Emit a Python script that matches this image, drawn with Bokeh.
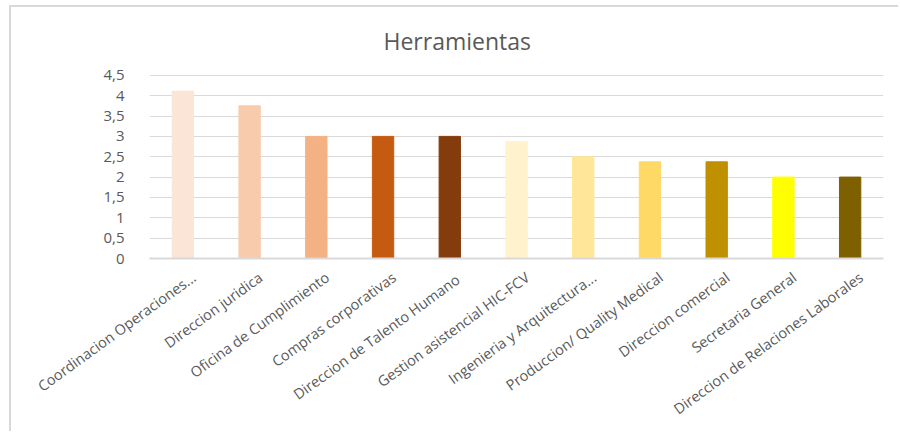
import math

from bokeh.embed import file_html
from bokeh.models import ColumnDataSource, FixedTicker, LinearAxis, Range1d
from bokeh.plotting import figure
from bokeh.resources import INLINE

# Data
title_text = "Herramientas"
categories = [
    "Coordinacion Operaciones...",
    "Direccion juridica",
    "Oficina de Cumplimiento",
    "Compras corporativas",
    "Direccion de  Talento Humano",
    "Gestion asistencial HIC-FCV",
    "Ingenieria y Arquitectura...",
    "Produccion/ Quality Medical",
    "Direccion comercial",
    "Secretaria General",
    "Direccion de Relaciones Laborales",
]
values = [4.11, 3.75, 3.0, 3.0, 3.0, 2.875, 2.5, 2.375, 2.375, 2.0, 2.0]
bar_colors = [
    "#FBE5D6", "#F8CBAD", "#F4B183", "#C55A11", "#843C0C",
    "#FFF2CC", "#FFE699", "#FFD966", "#BF9000", "#FFFF00", "#7F6000",
]
y_ticks = [0, 0.5, 1, 1.5, 2, 2.5, 3, 3.5, 4, 4.5]
y_tick_labels = ["0", "0,5", "1", "1,5", "2", "2,5", "3", "3,5", "4", "4,5"]

FONT = "Open Sans"
TEXT_COLOR = "#595959"
GRID_COLOR = "#D9D9D9"

# category slots 0..n-1 on a numeric x scale
slots = list(range(len(categories)))
source = ColumnDataSource(dict(slot=slots, cat=categories, val=values, color=bar_colors))

p = figure(
    width=889, height=426,
    x_range=Range1d(-0.5, len(categories) - 0.5),
    y_range=Range1d(0, 4.52),
    x_axis_location=None,
    output_backend="svg", toolbar_location=None,
    min_border_left=138, min_border_right=17,
    min_border_top=67, min_border_bottom=175,
)
# chart frame: thin grey border on the left and top edges
p.margin = (5, 0, 0, 9)
p.styles = {"border-left": f"2px solid {GRID_COLOR}", "border-top": f"2px solid {GRID_COLOR}"}
p.outline_line_color = None
p.background_fill_color = "white"
p.border_fill_color = "white"

p.vbar(x="slot", top="val", width=0.32, color="color", line_color="color", source=source)

# Title
p.title.text = title_text
p.title.align = "left"
p.title.offset = 234
p.title.standoff = 31
p.title.vertical_align = "top"
p.title.text_font = FONT
p.title.text_font_size = "23px"
p.title.text_font_style = "normal"
p.title.text_color = TEXT_COLOR

# Grid
p.xgrid.grid_line_color = None
p.ygrid.grid_line_color = GRID_COLOR
p.ygrid.grid_line_width = 1
p.ygrid.ticker = FixedTicker(ticks=y_ticks)

# Y axis: labels only, comma decimals
p.yaxis.ticker = FixedTicker(ticks=y_ticks)
p.yaxis.major_label_overrides = {t: s for t, s in zip(y_ticks, y_tick_labels)}
p.yaxis.axis_line_color = None
p.yaxis.major_tick_line_color = None
p.yaxis.minor_tick_line_color = None
p.yaxis.major_label_standoff = 19
p.yaxis.major_label_text_font = FONT
p.yaxis.major_label_text_font_size = "15px"
p.yaxis.major_label_text_color = TEXT_COLOR

# X axis: rotated category names, anchored slightly right of each bar
label_shift = 0.165
p.extra_x_ranges = {"labels": Range1d(-0.5 - label_shift, len(categories) - 0.5 - label_shift)}
xaxis = LinearAxis(
    x_range_name="labels",
    ticker=FixedTicker(ticks=slots),
    major_label_overrides={i: c for i, c in zip(slots, categories)},
    axis_line_color=GRID_COLOR, axis_line_width=2,
    major_tick_line_color=None, minor_tick_line_color=None,
    major_label_orientation=math.radians(36),
    major_label_standoff=11,
    major_label_text_font=FONT,
    major_label_text_font_size="14.5px",
    major_label_text_color=TEXT_COLOR,
)
p.add_layout(xaxis, "below")

open("out.html", "w").write(file_html(p, INLINE))
